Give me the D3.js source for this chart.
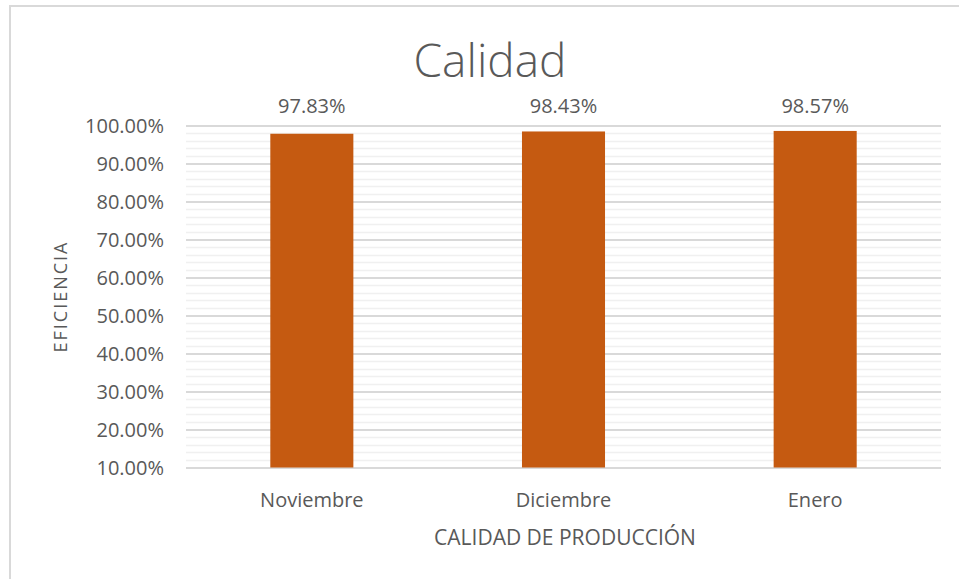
<html>
  <head>
    <script src="https://cdn.jsdelivr.net/npm/d3@7/dist/d3.min.js"></script>
  </head>
  <body>
    <style>
      body{
        margin: 0;
        padding: 0;
        background-color: white;
      }
      svg text{
        font-family: "Open Sans", sans-serif;
        fill: #595959;
      }
    </style>
    <div id="chart"></div>
    <script>
      // chart data
      var months = ["Noviembre", "Diciembre", "Enero"];
      var calidad = [0.9783, 0.9843, 0.9857];
      var yTicks = [0.1, 0.2, 0.3, 0.4, 0.5, 0.6, 0.7, 0.8, 0.9, 1.0];

      var W = 959, H = 579;
      var plotL = 186, plotR = 941, plotT = 125.5, plotB = 467.5;

      var svg = d3.select("#chart").append("svg")
        .attr("width", W)
        .attr("height", H);

      // outer frame
      svg.append("rect")
        .attr("x", 10).attr("y", 6)
        .attr("width", 980).attr("height", 620)
        .style("fill", "none")
        .style("stroke", "#d9d9d9")
        .style("stroke-width", 2);

      var x = d3.scaleBand()
        .domain(months)
        .range([plotL, plotR])
        .paddingInner(0.67)
        .paddingOuter(0.335);

      var y = d3.scaleLinear()
        .domain([0.1, 1.0])
        .range([plotB, plotT]);

      // minor gridlines every 2%
      var minor = d3.range(10, 100, 2).map(function(v){ return v / 100; })
        .filter(function(v){ return Math.round(v * 100) % 10 !== 0; });
      svg.append("g").selectAll("line")
        .data(minor).enter().append("line")
        .attr("x1", plotL).attr("x2", plotR)
        .attr("y1", function(d){ return Math.round(y(d)) + 0.5; })
        .attr("y2", function(d){ return Math.round(y(d)) + 0.5; })
        .style("stroke", "#f0f0f0")
        .style("stroke-width", 1.5);

      // major gridlines + labels via axis
      var yAxis = d3.axisLeft(y)
        .tickValues(yTicks)
        .tickSize(-(plotR - plotL))
        .tickPadding(22)
        .tickFormat(function(d){ return (d * 100).toFixed(2) + "%"; });
      var gy = svg.append("g")
        .attr("transform", "translate(" + plotL + ",0)")
        .call(yAxis);
      gy.select(".domain").remove();
      gy.selectAll("line")
        .style("stroke", "#d9d9d9")
        .style("stroke-width", 2);
      gy.selectAll("text")
        .style("font-size", "20px")
        .attr("dy", "0.35em");

      // bars
      svg.append("g").selectAll("rect")
        .data(calidad).enter().append("rect")
        .attr("x", function(d, i){ return x(months[i]); })
        .attr("width", x.bandwidth())
        .attr("y", function(d){ return y(d); })
        .attr("height", function(d){ return y(0.1) - y(d); })
        .style("fill", "#c55a11");

      // data labels
      svg.append("g").selectAll("text")
        .data(calidad).enter().append("text")
        .attr("x", function(d, i){ return x(months[i]) + x.bandwidth() / 2; })
        .attr("y", 113)
        .style("text-anchor", "middle")
        .style("font-size", "20px")
        .text(function(d){ return (d * 100).toFixed(2) + "%"; });

      // category axis
      var xAxis = d3.axisBottom(x).tickSize(0).tickPadding(0);
      var gx = svg.append("g")
        .attr("transform", "translate(0," + plotB + ")")
        .call(xAxis);
      gx.select(".domain").remove();
      gx.selectAll("text")
        .attr("y", 39)
        .attr("dy", 0)
        .style("font-size", "20px");

      // title
      svg.append("text")
        .attr("x", 490)
        .attr("y", 77)
        .style("text-anchor", "middle")
        .style("font-size", "46px")
        .style("font-weight", 300)
        .text("Calidad");

      // axis titles
      svg.append("text")
        .attr("x", 565)
        .attr("y", 545)
        .style("text-anchor", "middle")
        .style("font-size", "21px")
        .text("CALIDAD DE PRODUCCIÓN");

      svg.append("text")
        .attr("transform", "translate(67," + ((plotT + plotB) / 2) + ") rotate(-90)")
        .style("text-anchor", "middle")
        .style("font-size", "18px")
        .style("letter-spacing", "2px")
        .text("EFICIENCIA");
    </script>
  </body>
</html>
